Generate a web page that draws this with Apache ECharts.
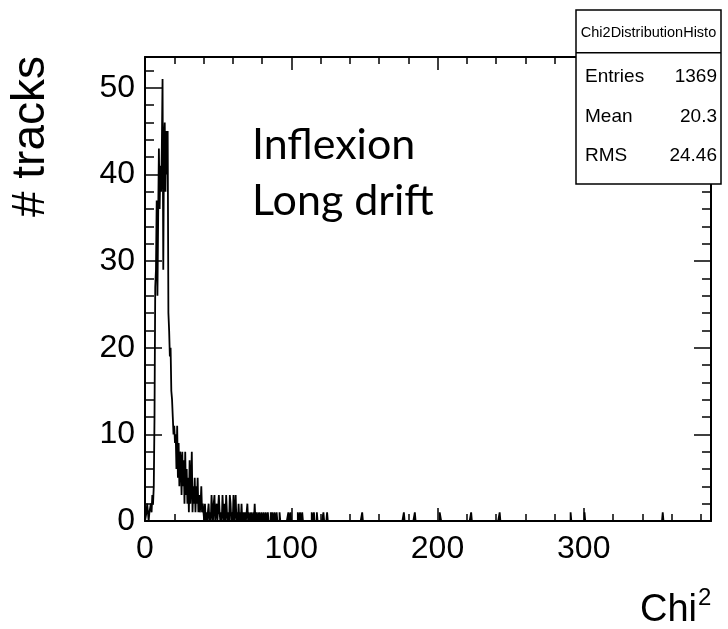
<!DOCTYPE html>
<html>
<head>
<meta charset="utf-8">
<script src="https://cdn.jsdelivr.net/npm/echarts@6/dist/echarts.min.js"></script>
<style>
html, body { margin: 0; padding: 0; background: #fff; }
#chart { width: 728px; height: 629px; }
</style>
</head>
<body>
<div id="chart"></div>
<script>
// Chi2DistributionHisto : bins of 0.5 between 0 and 387
var binWidth = 0.5;
var xMax = 387;
var yMax = 53.55;
var xTicks = [0, 100, 200, 300];
var yTicks = [0, 10, 20, 30, 40, 50];

// counts of the first 80 bins (chi2 = 0 ... 39.5)
var headCounts = [
  0, 0, 1, 2, 1, 0, 1, 1, 2, 1,
  3, 2, 4, 12, 27, 29, 37, 26, 35, 43,
  36, 41, 38, 43, 51, 29, 44, 46, 38, 45,
  40, 45, 24, 22, 19, 20, 15, 14, 12, 10,
  11, 9, 10, 6, 11, 5, 9, 4, 8, 7,
  3, 8, 4, 7, 2, 8, 3, 6, 2, 5,
  1, 7, 2, 4, 8, 1, 4, 2, 5, 1,
  4, 2, 5, 1, 3, 1, 2, 4, 1, 2
];

// sparse tail : [bin start, count]
var tailBins = [
  [40.0, 1], [41.0, 2], [42.0, 1], [43.5, 2], [44.5, 1], [45.5, 3], [46.0, 1],
  [47.0, 2], [47.5, 3], [48.5, 1], [49.0, 2], [50.5, 3], [51.0, 1], [52.0, 1],
  [53.0, 3], [53.5, 1], [54.5, 2], [55.5, 3], [56.0, 1], [57.0, 1], [58.0, 3],
  [58.5, 2], [59.5, 1], [60.5, 3], [61.5, 1], [62.0, 3], [63.0, 1], [64.0, 2],
  [65.0, 1], [66.0, 2], [67.5, 1], [68.5, 1], [70.0, 2], [71.0, 1], [72.5, 1],
  [74.0, 1], [75.0, 2], [76.5, 1], [78.0, 1], [79.5, 1], [81.0, 1], [82.5, 1],
  [84.0, 1], [86.0, 1], [87.0, 1], [88.5, 1], [90.0, 1], [92.0, 1], [98.0, 1],
  [99.5, 1], [104.5, 1], [106.0, 1], [107.5, 1], [114.0, 1], [115.5, 1],
  [117.5, 1], [122.0, 1], [124.5, 1], [148.5, 1], [177.0, 1], [184.5, 1],
  [201.5, 1], [202.0, 1], [223.0, 1], [242.5, 1], [291.0, 1], [300.5, 1],
  [354.0, 1]
];

var histName = 'Chi2DistributionHisto';
var statLabels = ['Entries', 'Mean', 'RMS'];
var statValues = ['1369', '20.3', '24.46'];

// build the full bin list
var nBins = Math.round(xMax / binWidth);
var counts = [];
for (var i = 0; i < nBins; i++) counts.push(0);
headCounts.forEach(function (c, i) { counts[i] = c; });
tailBins.forEach(function (b) { counts[Math.round(b[0] / binWidth)] = b[1]; });

var points = [];
for (var i = 0; i < nBins; i++) points.push([i * binWidth, counts[i]]);
points.push([xMax, counts[nBins - 1]]);

var font = 'Liberation Sans';

function tickLabels(list) {
  return function (v) { return list.indexOf(v) >= 0 ? String(v) : ''; };
}

function xAxisCfg(pos, labels) {
  return {
    type: 'value',
    position: pos,
    min: 0,
    max: xMax,
    interval: xTicks[1] - xTicks[0],
    axisLine: { show: true, onZero: false, lineStyle: { color: '#000', width: 2 } },
    axisTick: { show: true, inside: true, length: 13, lineStyle: { color: '#000', width: 1.5 } },
    minorTick: { show: true, splitNumber: 5, length: 7, lineStyle: { color: '#000', width: 1.5 } },
    splitLine: { show: false },
    minorSplitLine: { show: false },
    axisLabel: {
      show: labels,
      margin: 12,
      color: '#000',
      fontFamily: font,
      fontSize: 32,
      showMaxLabel: false,
      hideOverlap: false,
      formatter: tickLabels(xTicks)
    }
  };
}

function yAxisCfg(pos, labels) {
  return {
    type: 'value',
    position: pos,
    min: 0,
    max: yMax,
    interval: yTicks[1] - yTicks[0],
    axisLine: { show: true, onZero: false, lineStyle: { color: '#000', width: 2 } },
    axisTick: { show: true, inside: true, length: 17, lineStyle: { color: '#000', width: 1.5 } },
    minorTick: { show: true, splitNumber: 5, length: 9, lineStyle: { color: '#000', width: 1.5 } },
    splitLine: { show: false },
    minorSplitLine: { show: false },
    axisLabel: {
      show: labels,
      margin: 10,
      color: '#000',
      fontFamily: font,
      fontSize: 32,
      showMaxLabel: false,
      hideOverlap: false,
      formatter: tickLabels(yTicks)
    }
  };
}

var statTexts = [];
statLabels.forEach(function (s, k) {
  var y = 76.7 + k * 39.7;
  statTexts.push({
    type: 'text', x: 585, y: y, z: 101,
    style: { text: s, font: '19px ' + font, fill: '#000', textAlign: 'left', textVerticalAlign: 'middle' }
  });
  statTexts.push({
    type: 'text', x: 717, y: y, z: 101,
    style: { text: statValues[k], font: '19px ' + font, fill: '#000', textAlign: 'right', textVerticalAlign: 'middle' }
  });
});

var chart = echarts.init(document.getElementById('chart'));
chart.setOption({
  animation: false,
  backgroundColor: '#fff',
  grid: { left: 145, right: 17, top: 57, bottom: 108, containLabel: false, outerBoundsMode: 'none' },
  xAxis: [xAxisCfg('bottom', true), xAxisCfg('top', false)],
  yAxis: [yAxisCfg('left', true), yAxisCfg('right', false)],
  series: [{
    type: 'line',
    xAxisIndex: 0,
    yAxisIndex: 0,
    step: 'end',
    symbol: 'none',
    data: points,
    lineStyle: { color: '#000', width: 1.8 },
    silent: true
  }],
  graphic: { elements: [
    {
      type: 'text', x: 31.5, y: 56, rotation: Math.PI / 2,
      style: { text: '# tracks', font: '46px ' + font, fill: '#000', textAlign: 'right', textVerticalAlign: 'middle' }
    },
    {
      type: 'text', x: 697, y: 611,
      style: { text: 'Chi', font: '38px ' + font, fill: '#000', textAlign: 'right', textVerticalAlign: 'middle' }
    },
    {
      type: 'text', x: 698, y: 598,
      style: { text: '2', font: '24px ' + font, fill: '#000', textAlign: 'left', textVerticalAlign: 'middle' }
    },
    {
      type: 'text', x: 252, y: 145,
      style: { text: 'Inflexion', font: '43px Lato', fill: '#000', textAlign: 'left', textVerticalAlign: 'middle' }
    },
    {
      type: 'text', x: 252, y: 201,
      style: { text: 'Long drift', font: '43px Lato', fill: '#000', textAlign: 'left', textVerticalAlign: 'middle' }
    },
    {
      type: 'rect', z: 100,
      shape: { x: 576, y: 10, width: 145, height: 174 },
      style: { fill: '#fff', stroke: '#000', lineWidth: 1.5 }
    },
    {
      type: 'line', z: 101,
      shape: { x1: 576, y1: 52.7, x2: 721, y2: 52.7 },
      style: { stroke: '#000', lineWidth: 1.5 }
    },
    {
      type: 'text', x: 648.5, y: 33, z: 101,
      style: { text: histName, font: '14.5px ' + font, fill: '#000', textAlign: 'center', textVerticalAlign: 'middle' }
    }
  ].concat(statTexts) }
});
</script>
</body>
</html>
